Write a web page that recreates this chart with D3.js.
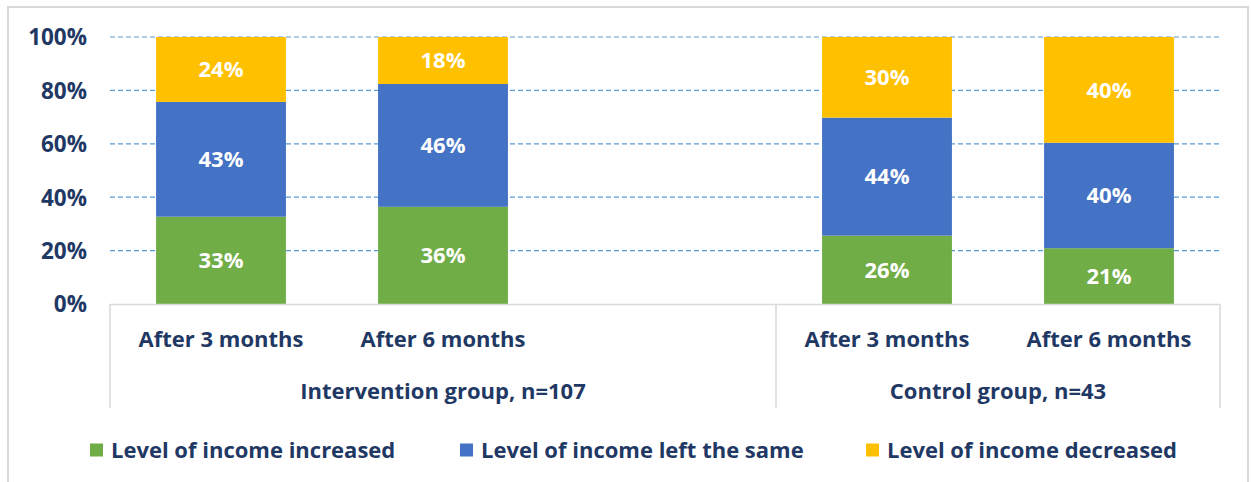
<!DOCTYPE html>
<html>
<head>
<meta charset="utf-8">
<script src="https://cdn.jsdelivr.net/npm/d3@7"></script>
<style>
  html, body { margin: 0; padding: 0; background: #fff; }
  svg { display: block; }
  text { font-family: "Open Sans", "Noto Sans", sans-serif; font-weight: bold; }
</style>
</head>
<body>
<svg id="chart" width="1251" height="482"></svg>
<script>
// ---- data ----
const categories = ["After 3 months", "After 6 months", "", "After 3 months", "After 6 months"];
const slotIds = ["i3", "i6", "gap", "c3", "c6"];
const groups = ["Intervention group, n=107", "Control group, n=43"];
const groupSlots = [["i3", "i6", "gap"], ["c3", "c6"]];
const seriesNames = ["Level of income increased", "Level of income left the same", "Level of income decreased"];
const increased = [32.7, 36.4, null, 25.6, 20.9];
const same = [43.0, 46.0, null, 44.2, 39.5];
const decreased = [24.3, 17.6, null, 30.2, 39.6];
const yTicks = [0, 20, 40, 60, 80, 100];
const colors = ["#70ad47", "#4472c4", "#ffc000"];

const svg = d3.select("#chart");
const textColor = "#1f3864";
const fs = "22px";

// outer frame
svg.append("rect").attr("x", 8).attr("y", 7).attr("width", 1240).attr("height", 490)
  .attr("fill", "none").attr("stroke", "#d9d9d9").attr("stroke-width", 2);

const x = d3.scaleBand().domain(slotIds).range([110, 1220]).paddingInner(0.415).paddingOuter(0.2075);
const y = d3.scaleLinear().domain([0, 100]).range([304, 37]);

// gridlines
svg.append("g").selectAll("line").data(yTicks.filter(d => d > 0)).join("line")
  .attr("x1", 110).attr("x2", 1220)
  .attr("y1", d => y(d)).attr("y2", d => y(d))
  .attr("stroke", "#5b9bd5").attr("stroke-width", 1.2).attr("stroke-dasharray", "5,3");

// y axis
const yAxis = d3.axisLeft(y).tickValues(yTicks).tickFormat(d => d + "%").tickSize(0).tickPadding(0);
const yg = svg.append("g").attr("transform", "translate(87,0)").call(yAxis);
yg.select(".domain").remove();
yg.selectAll("text").attr("fill", textColor).style("font-size", "22.5px").attr("dy", "0.35em");

// stacked data
const rows = slotIds.map((id, i) => ({ id, increased: increased[i], same: same[i], decreased: decreased[i] }))
  .filter(r => r.increased != null);
const keys = ["increased", "same", "decreased"];
const stack = d3.stack().keys(keys)(rows);

const layers = svg.append("g").selectAll("g").data(stack).join("g")
  .attr("fill", (d, i) => colors[i]);
layers.selectAll("rect").data(d => d).join("rect")
  .attr("x", d => x(d.data.id))
  .attr("width", x.bandwidth())
  .attr("y", d => y(Math.min(100, d[1])))
  .attr("height", d => y(d[0]) - y(Math.min(100, d[1])));

layers.selectAll("text").data(d => d).join("text")
  .attr("x", d => x(d.data.id) + x.bandwidth() / 2)
  .attr("y", d => (y(d[0]) + y(Math.min(100, d[1]))) / 2)
  .attr("dy", "0.35em")
  .attr("text-anchor", "middle")
  .attr("fill", "#fff")
  .style("font-size", fs)
  .text(d => Math.round(d[1] - d[0]) + "%");

// category axis lines
const axisG = svg.append("g").attr("stroke", "#d9d9d9").attr("stroke-width", 1.5);
axisG.append("line").attr("x1", 110).attr("x2", 1220).attr("y1", 304.5).attr("y2", 304.5);
const dividers = [110, x("c3") - x.step() * x.paddingInner() / 2, 1220];
axisG.selectAll(".div").data(dividers).join("line")
  .attr("x1", d => d).attr("x2", d => d).attr("y1", 304).attr("y2", 408);

// category labels
svg.append("g").selectAll("text").data(slotIds.map((id, i) => ({ id, label: categories[i] })).filter(d => d.label))
  .join("text")
  .attr("x", d => x(d.id) + x.bandwidth() / 2)
  .attr("y", 339).attr("dy", "0.35em")
  .attr("text-anchor", "middle").attr("fill", textColor).style("font-size", fs)
  .text(d => d.label);

// group labels
svg.append("g").selectAll("text").data(groups).join("text")
  .attr("x", (d, i) => {
    const s = groupSlots[i];
    const x0 = x(s[0]) - x.step() * x.paddingInner() / 2;
    const x1 = x(s[s.length - 1]) + x.bandwidth() + x.step() * x.paddingInner() / 2;
    return (Math.max(110, x0) + Math.min(1220, x1)) / 2;
  })
  .attr("y", 391).attr("dy", "0.35em")
  .attr("text-anchor", "middle").attr("fill", textColor).style("font-size", fs)
  .text(d => d);

// legend
const legendX = [90, 460, 866];
const lg = svg.append("g").selectAll("g").data(seriesNames).join("g")
  .attr("transform", (d, i) => `translate(${legendX[i]},450)`);
lg.append("rect").attr("x", 0).attr("y", -6.5).attr("width", 13).attr("height", 13)
  .attr("fill", (d, i) => colors[i]);
lg.append("text").attr("x", 21).attr("dy", "0.35em").attr("fill", textColor)
  .style("font-size", fs).text(d => d);
</script>
</body>
</html>
